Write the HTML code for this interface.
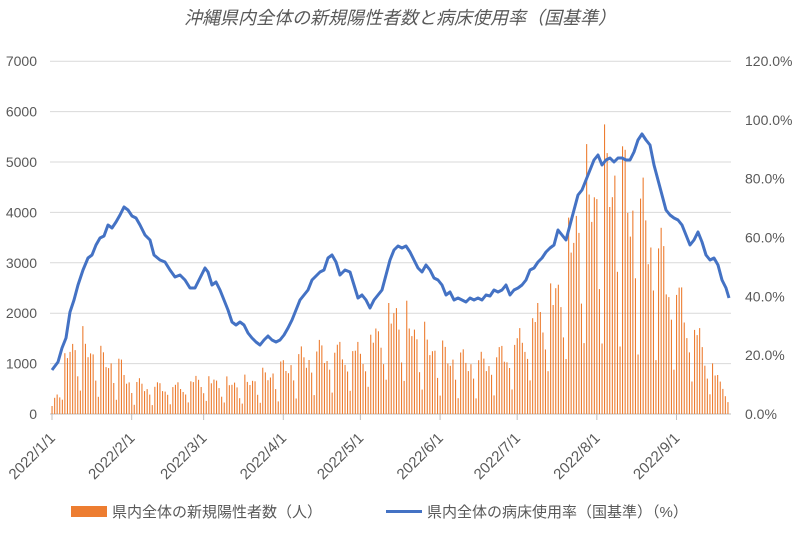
<!DOCTYPE html>
<html><head><meta charset="utf-8"><style>
body{margin:0;background:#fff;}
svg text{font-family:"Liberation Sans","Noto Sans CJK JP",sans-serif;fill:#595959;}
</style></head><body>
<svg id="s" width="799" height="529" xmlns="http://www.w3.org/2000/svg">
<text x="400" y="24" text-anchor="middle" font-size="18" font-style="italic">沖縄県内全体の新規陽性者数と病床使用率（国基準）</text>
<g id="grid"></g><g id="bars"></g><g id="lbl"></g>
<polyline id="line" fill="none" stroke="#4472C4" stroke-width="3" stroke-linejoin="round"/>
<rect x="71" y="506" width="36" height="11" fill="#ED7D31"/>
<text x="112" y="517" font-size="15">県内全体の新規陽性者数（人）</text>
<rect x="386" y="510" width="36" height="3" fill="#4472C4"/>
<text x="427" y="517" font-size="15">県内全体の病床使用率（国基準）（%）</text>
</svg>
<script>
const NS="http://www.w3.org/2000/svg";
function el(p,t,a,txt){const e=document.createElementNS(NS,t);for(const k in a)e.setAttribute(k,a[k]);if(txt)e.textContent=txt;document.getElementById(p).appendChild(e);}
const y0=414,ppk=50.4;
for(let i=0;i<=7;i++){const y=y0-i*ppk;
 el('grid','line',{x1:50,x2:731,y1:y,y2:y,stroke:i?'#d9d9d9':'#bfbfbf','stroke-width':1});
 el('lbl','text',{x:37,y:y+5,'text-anchor':'end','font-size':14},String(i*1000));}
for(let i=0;i<=6;i++){const y=y0-i*58.83;el('lbl','text',{x:745,y:y+5,'font-size':14},(i*20).toFixed(1)+'%');}
const pd=2.57,x0=52;
const months=[['2022/1/1',0],['2022/2/1',31],['2022/3/1',59],['2022/4/1',90],['2022/5/1',120],['2022/6/1',151],['2022/7/1',181],['2022/8/1',212],['2022/9/1',243]];
for(const [t,d] of months){const x=x0+d*pd;
 el('lbl','line',{x1:x,x2:x,y1:414,y2:420,stroke:'#bfbfbf'});
 el('lbl','text',{x:x+4,y:439,'text-anchor':'end','font-size':15,transform:`rotate(-45 ${x+4} 439)`},t);}
const env=[[52,200],[60,800],[70,1700],[80,1800],[100,1400],[120,1200],[130,800],[150,700],[180,700],[200,900],[220,800],[240,750],[260,900],[280,1100],[300,1400],[320,1600],[340,1600],[360,1600],[380,2100],[395,2600],[410,2200],[430,1700],[450,1400],[480,1300],[500,1500],[520,1900],[540,2600],[560,3200],[570,4200],[580,5200],[600,5700],[614,6100],[630,5400],[650,4700],[670,3500],[690,2300],[700,1900],[710,1300],[720,800],[729,800]];
function interp(a,x){for(let i=1;i<a.length;i++)if(x<=a[i][0]){const [xa,ya]=a[i-1],[xb,yb]=a[i];return ya+(yb-ya)*(x-xa)/(xb-xa);}return a[a.length-1][1];}
const wk=[1,0.95,0.9,0.82,0.78,0.55,0.3];
let bh='';
for(let d=0;d<=263;d++){const x=x0+d*pd;let v=interp(env,x)*wk[(d+2)%7]*(0.88+0.12*Math.sin(d*1.7));const h=v/1000*ppk;
 bh+=`<rect x="${(x-0.5).toFixed(1)}" y="${(y0-h).toFixed(1)}" width="1.1" height="${h.toFixed(1)}" fill="#ED7D31"/>`;}
document.getElementById('bars').innerHTML=bh;
const pts="52,370 58,362 62,348 66,338 70,312 74,300 78,285 83,270 88,258 92,255 96,245 100,238 104,236 108,225 112,228 116,222 120,215 124,207 128,210 132,216 136,218 140,225 145,235 150,240 154,255 160,260 165,262 170,270 175,277 180,275 185,280 190,288 195,288 200,278 205,268 208,272 212,285 216,282 220,290 224,300 228,310 232,322 236,325 240,322 244,325 248,333 252,338 256,342 260,345 264,340 268,336 272,340 276,342 280,340 284,335 288,328 292,320 296,310 300,300 304,295 308,290 312,280 316,276 320,272 324,270 328,258 332,255 336,262 340,275 345,270 350,272 354,285 358,298 362,295 366,300 370,308 374,300 378,295 382,290 386,275 390,260 394,250 398,246 402,248 406,246 410,252 414,260 418,268 422,272 426,265 430,270 434,278 438,280 442,285 446,295 450,292 454,300 458,298 462,300 466,302 470,298 474,300 478,298 482,300 486,295 490,296 494,290 498,292 502,290 506,285 510,295 514,290 518,288 522,285 526,280 530,270 534,268 538,262 542,258 546,252 550,248 554,245 558,230 562,235 566,240 570,225 574,210 578,195 582,190 586,180 590,170 594,160 598,155 602,165 606,160 610,158 614,162 618,158 622,158 626,160 630,160 634,152 638,140 642,134 646,140 650,145 654,165 658,180 662,195 666,210 670,215 674,218 678,220 682,225 686,235 690,245 694,240 698,232 702,242 706,255 710,260 714,258 718,265 722,280 726,288 729,298";
document.getElementById('line').setAttribute('points',pts);
</script>
</body></html>
